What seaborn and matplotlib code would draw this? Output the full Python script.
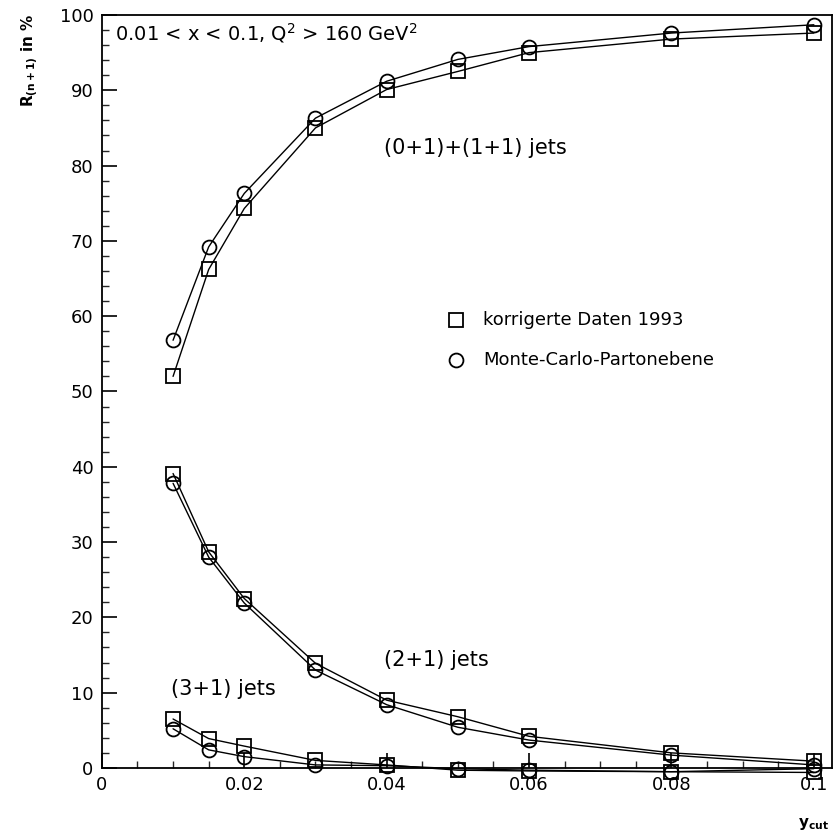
import numpy as np
import pandas as pd
import matplotlib
matplotlib.use("Agg")
import matplotlib.pyplot as plt
from matplotlib.ticker import MultipleLocator
import seaborn as sns

sns.set_theme(style="ticks")
plt.rcParams["font.family"] = ["DejaVu Sans"]
plt.rcParams["mathtext.default"] = "regular"
plt.rcParams["text.color"] = "black"

ycut = [0.01, 0.015, 0.02, 0.03, 0.04, 0.05, 0.06, 0.08, 0.1]

# (0+1)+(1+1) jets
r01_data = [52.0, 66.2, 74.3, 85.0, 90.1, 92.5, 95.0, 96.8, 97.6]
r01_mc = [56.8, 69.2, 76.3, 86.3, 91.2, 94.1, 95.8, 97.6, 98.7]
# (2+1) jets
r21_data = [39.1, 28.7, 22.5, 13.9, 9.0, 6.8, 4.2, 2.0, 0.9]
r21_mc = [37.8, 28.0, 21.9, 13.0, 8.4, 5.4, 3.7, 1.7, 0.4]
# (3+1) jets
r31_data = [6.5, 3.9, 2.9, 1.0, 0.4, -0.3, -0.4, -0.5, -0.6]
r31_mc = [5.2, 2.4, 1.5, 0.4, 0.3, -0.1, -0.3, -0.5, -0.1]

legend_data = "korrigerte Daten 1993"
legend_mc = "Monte-Carlo-Partonebene"

fig = plt.figure(figsize=(8.35, 8.32), dpi=100)
ax = fig.add_axes([0.122, 0.077, 0.874, 0.905])

series = [
    (r01_data, "s"), (r01_mc, "o"),
    (r21_data, "s"), (r21_mc, "o"),
    (r31_data, "s"), (r31_mc, "o"),
]
for vals, mk in series:
    df = pd.DataFrame({"ycut": ycut, "R": vals})
    sns.lineplot(data=df, x="ycut", y="R", ax=ax, color="black", lw=1.0,
                 marker=mk, markersize=10, markerfacecolor="none",
                 markeredgecolor="black", markeredgewidth=1.3, legend=False,
                 clip_on=False)

ax.set_xlim(0, 0.1025)
ax.set_ylim(0, 100)
ax.xaxis.set_major_locator(MultipleLocator(0.02))
ax.xaxis.set_minor_locator(MultipleLocator(0.005))
ax.yaxis.set_major_locator(MultipleLocator(10))
ax.yaxis.set_minor_locator(MultipleLocator(2))
ax.set_xticks([0, 0.02, 0.04, 0.06, 0.08, 0.1])
ax.set_xticklabels(["0", "0.02", "0.04", "0.06", "0.08", "0.1"])
ax.tick_params(which="major", direction="in", length=11, width=1.2,
               labelsize=13, pad=6, colors="black")
ax.tick_params(which="minor", direction="in", length=5, width=1.0)
for sp in ax.spines.values():
    sp.set_linewidth(1.3)
    sp.set_color("black")
ax.set_xlabel("")
ax.set_ylabel("")

fig.text(0.036, 0.984, r"R$_{(n+1)}$ in %", rotation=90, ha="center",
         va="top", fontsize=11, fontweight="bold")
fig.text(0.974, 0.010, r"y$_{cut}$", ha="center", va="center",
         fontsize=11, fontweight="bold")

ax.text(0.0019, 97.6, r"0.01 < x < 0.1, Q$^2$ > 160 GeV$^2$", fontsize=14,
        ha="left", va="center")
ax.text(0.0396, 82.3, "(0+1)+(1+1) jets", fontsize=15, ha="left", va="center")
ax.text(0.0396, 14.3, "(2+1) jets", fontsize=15, ha="left", va="center")
ax.text(0.0097, 10.5, "(3+1) jets", fontsize=15, ha="left", va="center")

ax.plot([0.0497], [59.5], marker="s", ms=10, mfc="none", mec="black", mew=1.3)
ax.plot([0.0497], [54.2], marker="o", ms=10, mfc="none", mec="black", mew=1.3)
ax.text(0.0535, 59.5, legend_data, fontsize=13, ha="left", va="center")
ax.text(0.0535, 54.2, legend_mc, fontsize=13, ha="left", va="center")

fig.savefig("out.png", dpi=100, facecolor="white")
